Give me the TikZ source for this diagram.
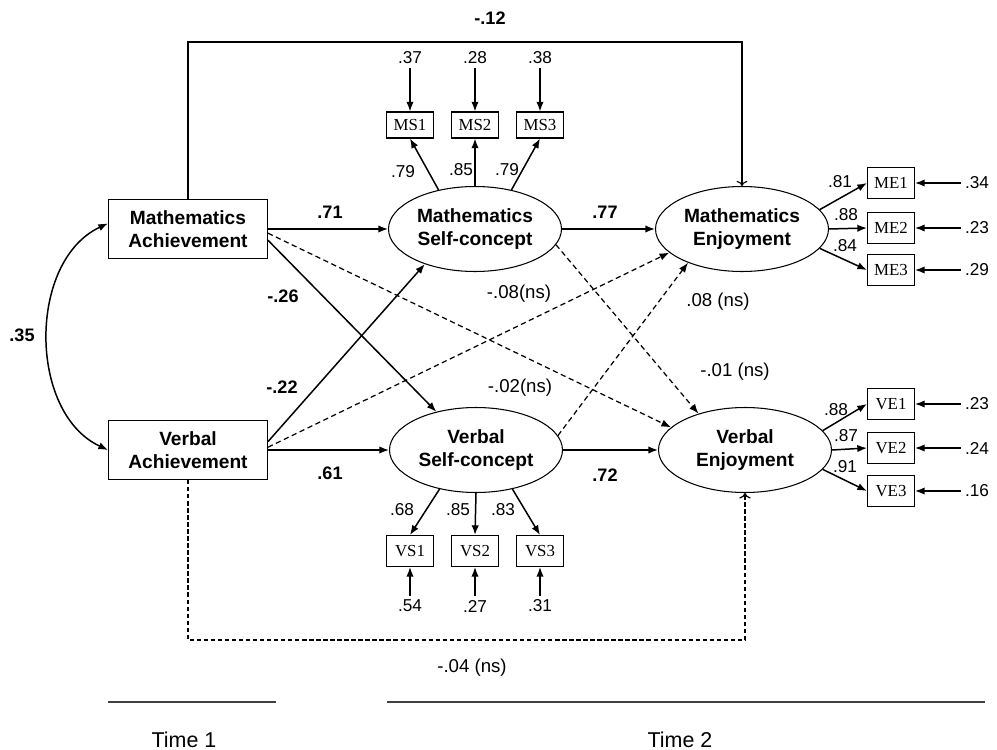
\documentclass[tikz,border=0pt]{standalone}
\usepackage{fontspec}
\setmainfont{Liberation Sans}
\newfontfamily\timesfont{Liberation Serif}
\usetikzlibrary{shapes.geometric, arrows, arrows.meta}

\begin{document}
\begin{tikzpicture}[x=0.02cm, y=-0.02cm]
	\tikzstyle{obs} = [rectangle, draw=black, line width=0.6pt, minimum width=3.18cm, minimum height=1.18cm, align=center, font=\fontsize{10.9}{12.9}\selectfont\bfseries]
	\tikzstyle{lat} = [ellipse, draw=black, line width=0.6pt, minimum width=3.46cm, minimum height=1.7cm, inner sep=0pt, align=center, font=\fontsize{10.9}{12.9}\selectfont\bfseries]
	\tikzstyle{ind} = [rectangle, draw=black, line width=0.6pt, minimum width=0.94cm, minimum height=0.62cm, inner sep=1pt, font=\timesfont\fontsize{9.6}{11}\selectfont]
	\tikzstyle{lbl} = [inner sep=2pt, font=\fontsize{9.8}{11}\selectfont]
	\tikzstyle{nsl} = [inner sep=1pt, font=\fontsize{10.6}{12}\selectfont]
	\tikzstyle{coef} = [inner sep=1pt, font=\fontsize{10.3}{12}\selectfont\bfseries]
	\tikzstyle{arr} = [-{Latex[length=5.5pt, width=4.2pt]}, line width=0.85pt]
	\tikzstyle{nsarr} = [-{Latex[length=5.5pt, width=4.2pt]}, line width=0.7pt, dash pattern=on 3pt off 2pt]
	\useasboundingbox (0,0) rectangle (997,750);

	% constructs
	\node[obs] at (188,229) (ma) {Mathematics\\Achievement};
	\node[obs] at (188,450) (va) {Verbal\\Achievement};
	\node[lat] at (475,229) (msc) {Mathematics\\Self-concept};
	\node[lat] at (476,450) (vsc) {Verbal\\Self-concept};
	\node[lat] at (742,229) (me) {Mathematics\\Enjoyment};
	\node[lat] at (745,450) (ve) {Verbal\\Enjoyment};

	% indicators
	\node[ind, minimum height=0.52cm] at (410,125) (ms1) {MS1};
	\node[ind, minimum height=0.52cm] at (475,125) (ms2) {MS2};
	\node[ind, minimum height=0.52cm] at (540,125) (ms3) {MS3};
	\node[ind] at (410,551) (vs1) {VS1};
	\node[ind] at (475,551) (vs2) {VS2};
	\node[ind] at (540,551) (vs3) {VS3};
	\node[ind] at (891,183) (me1) {ME1};
	\node[ind] at (891,228) (me2) {ME2};
	\node[ind] at (891,270) (me3) {ME3};
	\node[ind] at (891,404) (ve1) {VE1};
	\node[ind] at (891,448) (ve2) {VE2};
	\node[ind] at (891,491) (ve3) {VE3};

	% residuals
	\node[lbl] at (410,58) (ems1) {.37};
	\node[lbl] at (475,58) (ems2) {.28};
	\node[lbl] at (540,58) (ems3) {.38};
	\node[lbl] at (410,606) (evs1) {.54};
	\node[lbl] at (475,606) (evs2) {.27};
	\node[lbl] at (540,606) (evs3) {.31};
	\node[lbl] at (977,183) (eme1) {.34};
	\node[lbl] at (977,228) (eme2) {.23};
	\node[lbl] at (977,270) (eme3) {.29};
	\node[lbl] at (977,404) (eve1) {.23};
	\node[lbl] at (977,448) (eve2) {.24};
	\node[lbl] at (977,491) (eve3) {.16};

	\draw[arr] (ems1) -- (ms1);
	\draw[arr] (ems2) -- (ms2);
	\draw[arr] (ems3) -- (ms3);
	\draw[arr] (evs1) -- (vs1);
	\draw[arr] (evs2) -- (vs2);
	\draw[arr] (evs3) -- (vs3);
	\draw[arr] (eme1) -- (me1);
	\draw[arr] (eme2) -- (me2);
	\draw[arr] (eme3) -- (me3);
	\draw[arr] (eve1) -- (ve1);
	\draw[arr] (eve2) -- (ve2);
	\draw[arr] (eve3) -- (ve3);

	% loadings
	\draw[arr] (msc.133) -- (ms1.south);
	\draw[arr] (msc.north) -- (ms2.south);
	\draw[arr] (msc.47) -- (ms3.south);
	\draw[arr] (vsc.227) -- (vs1.north);
	\draw[arr] (vsc.south) -- (vs2.north);
	\draw[arr] (vsc.313) -- (vs3.north);
	\draw[arr] (me.14) -- (me1.west);
	\draw[arr] (me.east) -- (me2.west);
	\draw[arr] (me.-14) -- (me3.west);
	\draw[arr] (ve.14) -- (ve1.west);
	\draw[arr] (ve.east) -- (ve2.west);
	\draw[arr] (ve.-14) -- (ve3.west);

	\node[lbl] at (403,172) (lms1) {.79};
	\node[lbl] at (461,170) (lms2) {.85};
	\node[lbl] at (507,170) (lms3) {.79};
	\node[lbl] at (402,510) (lvs1) {.68};
	\node[lbl] at (458,510) (lvs2) {.85};
	\node[lbl] at (503,510) (lvs3) {.83};
	\node[lbl] at (840,182) (lme1) {.81};
	\node[lbl] at (846,215) (lme2) {.88};
	\node[lbl] at (845,246) (lme3) {.84};
	\node[lbl] at (836,410) (lve1) {.88};
	\node[lbl] at (846,436) (lve2) {.87};
	\node[lbl] at (845,467) (lve3) {.91};

	% structural paths
	\draw[{Latex[length=5.5pt, width=4.2pt]}-{Latex[length=5.5pt, width=4.2pt]}, line width=0.85pt] (ma.176) to[out=205, in=155] (va.west);
	\draw[arr] (ma.east) -- (msc.west);
	\draw[arr] (va.east) -- (vsc.west);
	\draw[arr] (msc.east) -- (me.west);
	\draw[arr] (vsc.east) -- (ve.west);
	\draw[arr] (ma.-8) -- (vsc.136);
	\draw[arr] (va.6) -- (msc.215);
	\draw[nsarr] (ma.-3) -- (ve.163);
	\draw[nsarr] (va.2) -- (me.198);
	\draw[nsarr] (msc.-11) -- (ve.142);
	\draw[nsarr] (vsc.10) -- (me.212);

	\coordinate (tc) at (742,42);
	\coordinate (bc) at (745,640);
	\draw[->, line width=0.6pt] (ma.north) |- (tc) -- (me.north);
	\draw[->, line width=0.7pt, dash pattern=on 2.5pt off 1.5pt] (va.south) |- (bc) -- (ve.south);

	\node[coef] at (22,335) (c35) {.35};
	\node[coef] at (330,212) (c71) {.71};
	\node[coef] at (330,473) (c61) {.61};
	\node[coef] at (605,212) (c77) {.77};
	\node[coef] at (605,475) (c72) {.72};
	\node[coef] at (283,296) (c26) {-.26};
	\node[coef] at (282,387) (c22) {-.22};
	\node[coef] at (490,18) (c12) {-.12};

	\node[nsl] at (519,294) (n08) {-.08(ns)};
	\node[nsl] at (520,388) (n02) {-.02(ns)};
	\node[nsl] at (718,302) (p08) {.08 (ns)};
	\node[nsl] at (735,372) (n01) {-.01 (ns)};
	\node[nsl] at (472,668) (n04) {-.04 (ns)};

	% time axis
	\draw[line width=0.8pt, black!75] (108,702) -- (276,702);
	\draw[line width=0.8pt, black!75] (387,702) -- (985,702);
	\node[font=\fontsize{12.2}{14}\selectfont] at (184,740) (t1) {Time 1};
	\node[font=\fontsize{12.2}{14}\selectfont] at (680,740) (t2) {Time 2};
\end{tikzpicture}
\end{document}
